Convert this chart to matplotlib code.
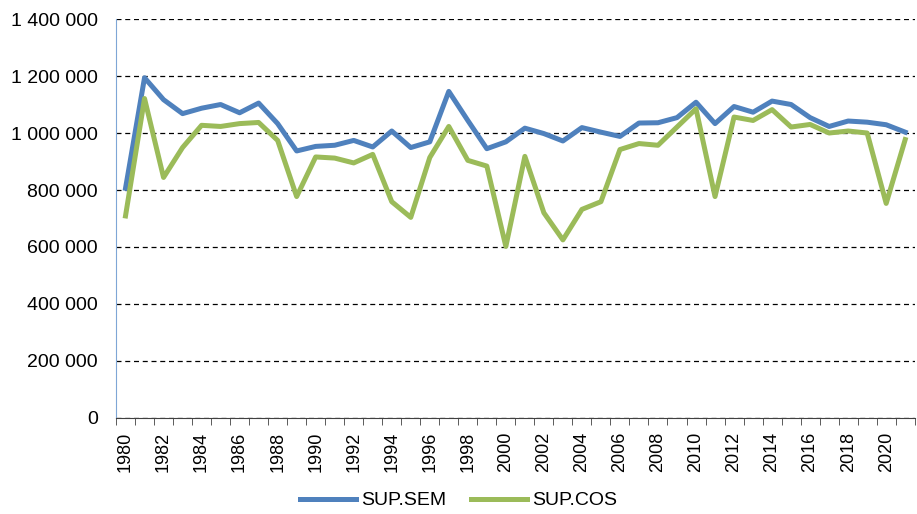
import numpy as np
import matplotlib.pyplot as plt
from matplotlib.ticker import FuncFormatter, FixedLocator

anos = list(range(1980, 2022))

sup_sem = [806000, 1194000, 1117000, 1068000, 1087000, 1100000, 1071000, 1105000,
           1033000, 937000, 953000, 957000, 974000, 951000, 1007000, 949000,
           969000, 1146000, 1044000, 945000, 969000, 1017000, 998000, 972000,
           1019000, 1003000, 988000, 1035000, 1036000, 1054000, 1108000, 1033000,
           1093000, 1073000, 1112000, 1100000, 1054000, 1023000, 1042000, 1038000,
           1029000, 1003000]

sup_cos = [709000, 1121000, 844000, 949000, 1027000, 1023000, 1033000, 1037000,
           974000, 777000, 916000, 912000, 895000, 925000, 759000, 704000,
           914000, 1023000, 904000, 884000, 602000, 918000, 720000, 625000,
           732000, 759000, 942000, 963000, 957000, 1021000, 1085000, 777000,
           1056000, 1044000, 1082000, 1021000, 1030000, 1000000, 1007000, 1000000,
           753000, 977000]

plt.rcParams['font.family'] = ['Liberation Sans', 'DejaVu Sans']

fig = plt.figure(figsize=(9.17, 5.14), dpi=100)
ax = fig.add_axes([0.1265, 0.1868, 0.871, 0.7762])

x = np.arange(len(anos))
ax.plot(x, sup_sem, color='#4F81BD', lw=3.6, label='SUP.SEM', solid_joinstyle='round')
ax.plot(x, sup_cos, color='#9BBB59', lw=3.6, label='SUP.COS', solid_joinstyle='round')

ax.set_xlim(-0.5, len(anos) - 0.5)
ax.set_ylim(0, 1400000)
ax.set_yticks(np.arange(0, 1400001, 200000))
ax.yaxis.set_major_formatter(FuncFormatter(lambda v, p: f"{int(v):,}".replace(",", " ")))
ax.yaxis.grid(True, linestyle=(0, (4, 3)), color='black', lw=0.9)
ax.set_axisbelow(True)

# rótulos a cada 2 anos, marcas entre as categorias
ax.set_xticks(x[::2])
ax.set_xticklabels([str(a) for a in anos[::2]], rotation=90)
ax.xaxis.set_minor_locator(FixedLocator(np.arange(-0.5, len(anos), 1)))
ax.tick_params(axis='x', which='major', length=0, pad=10, labelsize=13)
ax.tick_params(axis='x', which='minor', length=5, direction='out', color='#404040')
ax.tick_params(axis='y', length=0, pad=13, labelsize=14)

for s in ['top', 'right']:
    ax.spines[s].set_visible(False)
ax.spines['left'].set_color('#7FA6D6')
ax.spines['bottom'].set_color('#404040')

fig.legend(loc='center', bbox_to_anchor=(0.5, 0.026), ncol=2, frameon=False,
           fontsize=14, handlelength=2.85, columnspacing=1.3, handletextpad=0.26)

fig.savefig('out.png', dpi=100)
